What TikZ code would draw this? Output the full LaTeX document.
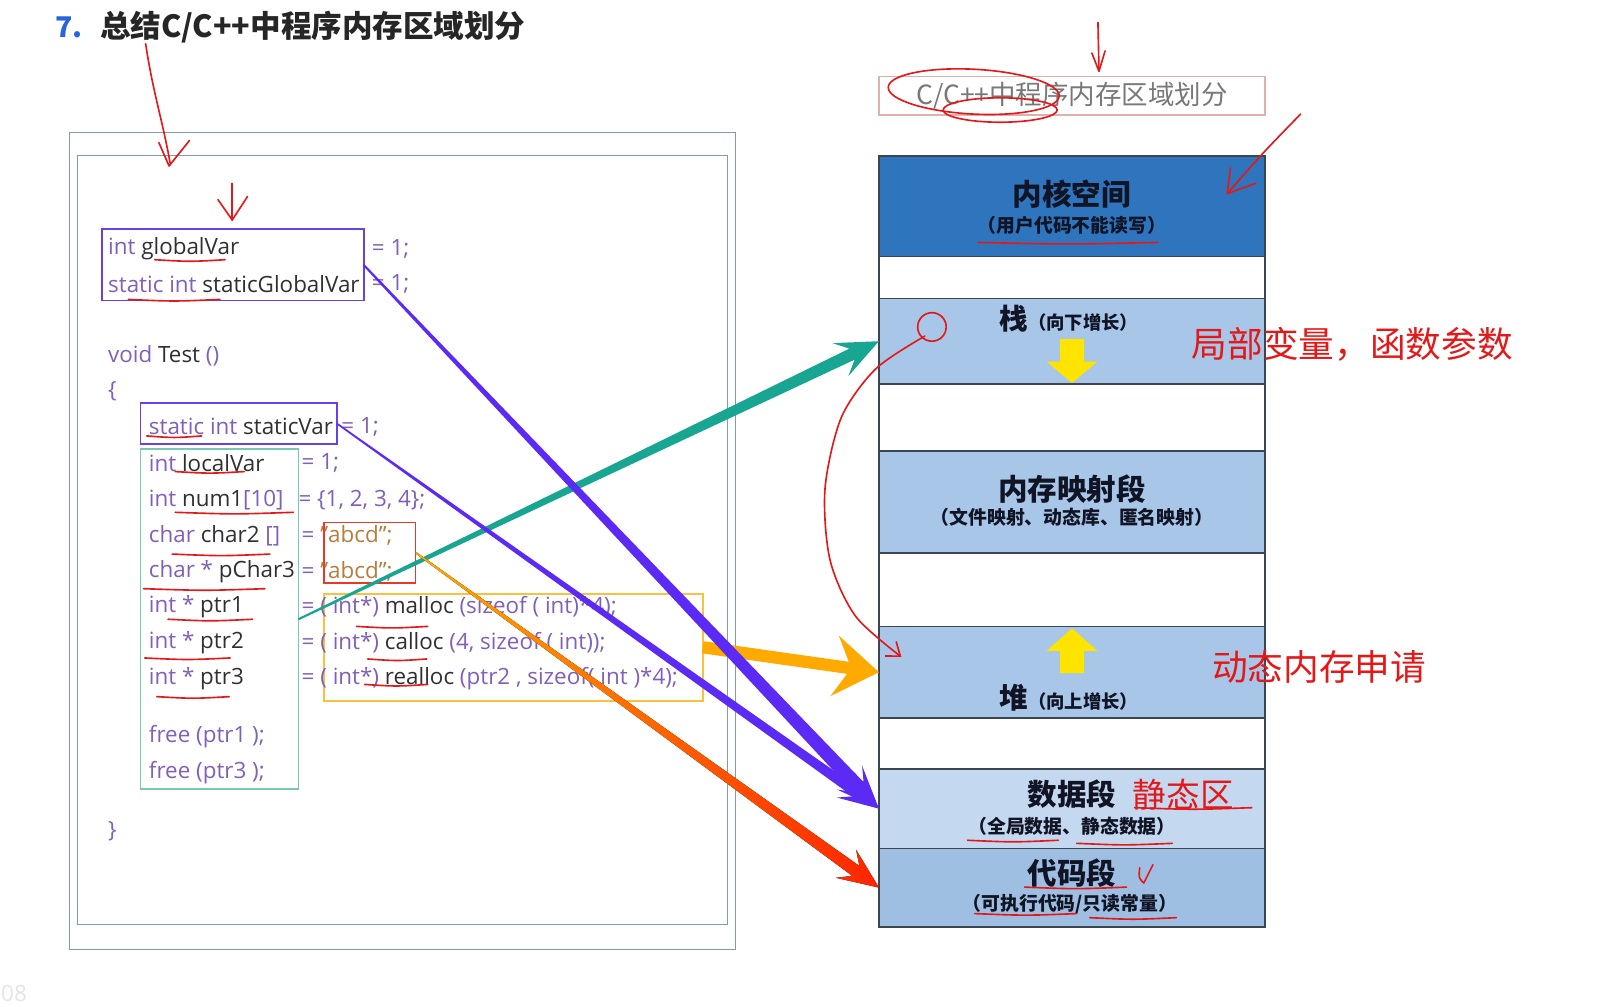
\documentclass[tikz,border=0pt]{standalone}
\usepackage{fontspec}
\setmainfont{Open Sans}
\newfontfamily\cjk{Noto Sans CJK SC}
\usetikzlibrary{positioning,calc,arrows.meta}

\definecolor{kwpurple}{RGB}{128,96,184}
\definecolor{iddark}{RGB}{48,48,52}
\definecolor{strbrown}{RGB}{182,126,62}
\definecolor{boxviolet}{RGB}{104,64,232}
\definecolor{boxteal}{RGB}{120,200,180}
\definecolor{boxred}{RGB}{232,56,40}
\definecolor{boxorange}{RGB}{250,192,64}
\definecolor{frameblue}{RGB}{125,155,190}
\definecolor{arrteal}{RGB}{24,166,146}
\definecolor{arrviolet}{RGB}{92,42,245}
\definecolor{arrorange}{RGB}{255,170,0}
\definecolor{arrred}{RGB}{255,36,0}
\definecolor{kernblue}{RGB}{46,117,190}
\definecolor{seglight}{RGB}{168,198,232}
\definecolor{segdata}{RGB}{196,216,240}
\definecolor{segcode}{RGB}{158,190,226}
\definecolor{segline}{RGB}{60,70,80}
\definecolor{segtext}{RGB}{16,20,36}
\definecolor{titlepink}{RGB}{222,176,176}
\definecolor{titlegrey}{RGB}{120,120,120}
\definecolor{headblue}{RGB}{40,100,220}
\definecolor{pen}{RGB}{228,24,24}
\definecolor{padyellow}{RGB}{255,228,0}

\newcommand{\codefont}{\fontsize{22}{26}\selectfont}
\newcommand{\vname}[1]{\textcolor{iddark}{#1}}
% colour, from, to, start half width, end half width, head half width, head length
\newcommand{\fatarrow}[7]{%
  \path ($(#3)!#7!(#2)$) coordinate (hb) ($(#3)!0.7*#7!(#2)$) coordinate (hn);
  \fill[#1] ($(#2)!#4!90:(#3)$) -- ($(hn)!#5!90:(#3)$) -- ($(hb)!#6!90:(#3)$) -- (#3)
    -- ($(hb)!#6!270:(#3)$) -- ($(hn)!#5!270:(#3)$) -- ($(#2)!#4!270:(#3)$) -- cycle;}

\begin{document}
\begin{tikzpicture}[x=1pt,y=-1pt,
  code/.style={anchor=west,inner sep=0pt,text=kwpurple,font=\codefont},
  cbox/.style={draw,line width=1.8,inner sep=0pt,outer sep=0pt},
  frame/.style={draw=frameblue,line width=1.2},
  seg/.style={draw=segline,line width=1.6,minimum width=379,inner sep=0pt,outer sep=0pt,align=center,text=segtext,font=\cjk\bfseries},
  kseg/.style={seg,fill=kernblue},
  lseg/.style={seg,fill=seglight},
  gseg/.style={seg,fill=white},
  dseg/.style={seg,fill=segdata},
  cseg/.style={seg,fill=segcode},
  big/.style={inner sep=0pt,text=segtext,font=\cjk\bfseries\fontsize{29}{32}\selectfont},
  small/.style={inner sep=0pt,text=segtext,font=\cjk\bfseries\fontsize{18.5}{20}\selectfont},
  pen/.style={draw=pen,line width=1.6,line cap=round,line join=round},
  note/.style={anchor=west,inner sep=0pt,text=pen,font=\cjk\fontsize{35}{38}\selectfont}]
\path[use as bounding box,fill=white] (0,0) rectangle (1568,988);

% heading
\node[anchor=west,inner sep=0pt,text=headblue,font=\cjk\bfseries\fontsize{28}{30}\selectfont] (num) at (54,27) {7.};
\node[anchor=west,inner sep=0pt,text=black!85,font=\cjk\bfseries\fontsize{30}{32}\selectfont] (heading) at (98,27) {总结C/C++中程序内存区域划分};
\node[anchor=west,inner sep=0pt,text=black!10,font=\fontsize{22}{24}\selectfont] (pageno) at (1,975) {08};

% code panel
\draw[frame] (68,130) rectangle (722,932);
\draw[frame] (76,153) rectangle (714,908);

\node[cbox,draw=boxviolet,minimum width=257,minimum height=70] (gbox) at (228.5,260) {};
\node[cbox,draw=boxviolet,minimum width=193,minimum height=40] (sbox) at (234.5,416) {};
\node[cbox,draw=boxteal,minimum width=155,minimum height=334] (tbox) at (215.5,608) {};
\node[cbox,draw=boxred,minimum width=90,minimum height=59] (rbox) at (363,542.5) {};
\node[cbox,draw=boxorange,minimum width=372,minimum height=105] (obox) at (504,635.5) {};

\node[code] (gv) at (106,244) {int \vname{globalVar}};
\node[code] (sgv) at (106,279) {static int \vname{staticGlobalVar}};
\node[code] (gveq) at (365,244) {= 1;};
\node[code] (sgveq) at (365,279) {= 1;};
\node[code] (test) at (106,349) {void \vname{Test} ()};
\node[code] (lbrace) at (106,384) {\{};
\node[code] (sv) at (146,419) {static int \vname{staticVar}};
\node[code] (sveq) at (335,419) {= 1;};
\node[code] (lv) at (146,455) {int \vname{localVar}};
\node[code] (n1) at (146,491) {int \vname{num1}[10]};
\node[code] (c2) at (146,526) {char \vname{char2} []};
\node[code] (pc3) at (146,561) {char * \vname{pChar3}};
\node[code] (p1) at (146,596) {int * \vname{ptr1}};
\node[code] (p2) at (146,631) {int * \vname{ptr2}};
\node[code] (p3) at (146,666) {int * \vname{ptr3}};
\node[code] (f1) at (146,723) {free (ptr1 );};
\node[code] (f3) at (146,759) {free (ptr3 );};
\node[code] (rbrace) at (106,816) {\}};
\node[code] (lveq) at (296,455) {= 1;};
\node[code] (n1eq) at (293,491) {= \{1, 2, 3, 4\};};
\node[code] (c2eq) at (296,526) {= \textcolor{strbrown}{"abcd";}};
\node[code] (pc3eq) at (296,561) {= \textcolor{strbrown}{"abcd";}};
\node[code] (p1eq) at (296,596) {= ( int*) \vname{malloc} (sizeof ( int)*4);};
\node[code] (p2eq) at (296,631) {= ( int*) \vname{calloc} (4, sizeof ( int));};
\node[code] (p3eq) at (296,666) {= ( int*) \vname{realloc} (ptr2 , sizeof( int )*4);};

% memory layout
\node[draw=titlepink,line width=1.2,minimum width=379,minimum height=38,inner sep=0pt,text=titlegrey,font=\cjk\fontsize{26}{28}\selectfont] (maptitle) at (1052.5,94) {C/C++中程序内存区域划分};

\node[kseg,minimum height=99] (kernel) at (1052.5,202.5) {};
\node[gseg,minimum height=41,below=0pt of kernel] (gapa) {};
\node[lseg,minimum height=84,below=0pt of gapa] (stack) {};
\node[gseg,minimum height=66,below=0pt of stack] (gapb) {};
\node[lseg,minimum height=100,below=0pt of gapb] (mmap) {};
\node[gseg,minimum height=72,below=0pt of mmap] (gapc) {};
\node[lseg,minimum height=90,below=0pt of gapc] (heap) {};
\node[gseg,minimum height=50,below=0pt of heap] (gapd) {};
\node[dseg,minimum height=78,below=0pt of gapd] (data) {};
\node[cseg,minimum height=77,below=0pt of data] (code) {};

\node[big] (kernlbl) at ($(kernel.center)+(0,-12)$) {内核空间};
\node[small] (kernsub) at ($(kernel.center)+(0,19)$) {（用户代码不能读写）};
\node[big,font=\cjk\bfseries\fontsize{28}{30}\selectfont] (stacklbl) at ($(stack.north)+(-3,20)$) {栈{\fontsize{18}{20}\selectfont（向下增长）}};
\node[big] (mmaplbl) at ($(mmap.center)+(0,-13)$) {内存映射段};
\node[small] (mmapsub) at ($(mmap.center)+(0,15)$) {（文件映射、动态库、匿名映射）};
\node[big,font=\cjk\bfseries\fontsize{28}{30}\selectfont] (heaplbl) at ($(heap.south)+(-3,-20)$) {堆{\fontsize{18}{20}\selectfont（向上增长）}};
\node[big] (datalbl) at ($(data.center)+(0,-14)$) {数据段};
\node[small] (datasub) at ($(data.center)+(0,17)$) {（全局数据、静态数据）};
\node[big] (codelbl) at ($(code.center)+(0,-14)$) {代码段};
\node[small] (codesub) at ($(code.center)+(-2,16)$) {（可执行代码/只读常量）};

\fill[padyellow] ($(stack.south)+(-12,-44)$) -- ($(stack.south)+(12,-44)$) -- ($(stack.south)+(12,-22)$) -- ($(stack.south)+(25,-22)$)
  -- ($(stack.south)+(0,-1)$) -- ($(stack.south)+(-25,-22)$) -- ($(stack.south)+(-12,-22)$) -- cycle;
\fill[padyellow] ($(heap.north)+(0,2)$) -- ($(heap.north)+(25,24)$) -- ($(heap.north)+(12,24)$) -- ($(heap.north)+(12,46)$)
  -- ($(heap.north)+(-12,46)$) -- ($(heap.north)+(-12,24)$) -- ($(heap.north)+(-25,24)$) -- cycle;

\node[note] (stacknote) at ($(stack.east)+(-72,3)$) {局部变量，函数参数};
\node[note] (heapnote) at ($(heap.east)+(-52,-5)$) {动态内存申请};
\node[note,font=\cjk\fontsize{33}{35}\selectfont,right=16pt of datalbl] (staticnote) {静态区};

% connectors
\fatarrow{arrteal}{tbox.east}{stack.west}{1pt}{6pt}{18pt}{42pt}
\fatarrow{arrorange}{obox.east}{heap.west}{6pt}{6pt}{30pt}{44pt}
\fatarrow{left color=arrorange,right color=arrred}{rbox.east}{code.west}{0.8pt}{6pt}{17pt}{40pt}
\fatarrow{arrviolet}{gbox.east}{data.west}{1pt}{7pt}{17pt}{42pt}
\fatarrow{arrviolet}{sbox.east}{data.west}{0.8pt}{5pt}{15pt}{40pt}

% pen marks
\draw[pen] (143,43) .. controls (150,90) and (160,120) .. (167,160);
\draw[pen] (156,140) -- (166,163) -- (186,138);
\draw[pen] (228,180) -- (228,216);
\draw[pen] (214,196) -- (228,216) -- (243,193);
\draw[pen] (1078,22) -- (1079,68);
\draw[pen] (1072,52) -- (1079,70) -- (1085,50);
\draw[pen,rotate around={-3:(956,90)}] (956,90) ellipse [x radius=84pt,y radius=22pt];
\draw[pen] (982,108) ellipse [x radius=56pt,y radius=12pt];
\draw[pen] (1277,112) .. controls (1240,150) .. (1205,190);
\draw[pen] (1208,165) -- (1205,190) -- (1233,180);
\draw[pen] (915,321) circle [radius=14pt];
\draw[pen,-{Straight Barb[length=12pt,width=18pt]}] plot[smooth] coordinates {(908,330) (860,362) (826,410) (810,480) (815,550) (840,605) (885,645)};
\draw[pen] (1119,852) .. controls (1118,862) .. (1123,867) -- (1132,849);
\foreach \xa/\xb/\yy in {152/221/255, 126/216/294, 144/198/428, 172/240/463, 172/288/503, 169/265/544,
  141/260/578, 165/248/608, 350/420/615, 142/226/646, 361/419/647, 154/225/684, 358/420/672,
  960/1137/238, 1114/1229/793, 950/1039/825, 1057/1151/828, 1006/1106/871, 957/1057/897, 1070/1155/901}
  \draw[pen] (\xa,\yy) .. controls ($(\xa,\yy)!0.5!(\xb,\yy)+(0,2)$) .. (\xb,\yy);
\end{tikzpicture}
\end{document}
